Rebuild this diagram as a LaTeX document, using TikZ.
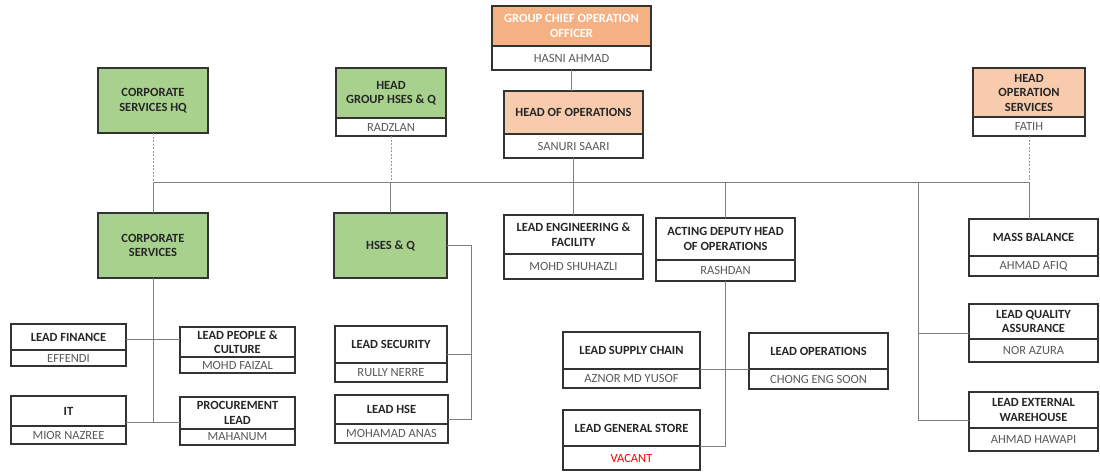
\documentclass[tikz,border=0pt]{standalone}
\usepackage{fontspec}
\setmainfont{Carlito}
\usepackage{tikz}
\usetikzlibrary{positioning}
\usetikzlibrary{calc}

\definecolor{boxgreen}{HTML}{A9D18E}
\definecolor{boxorange}{HTML}{F4B183}
\definecolor{boxpeach}{HTML}{F8CBAD}
\definecolor{namegray}{HTML}{595959}
\definecolor{linegray}{HTML}{7F7F7F}
\definecolor{vacantred}{HTML}{FF0000}

\begin{document}
\begin{tikzpicture}[x=1pt, y=-1pt,
  role/.style={draw=black!80, line width=1.2pt, anchor=north west, align=center, inner sep=1pt, outer sep=0pt, font=\fontsize{12.5}{14.5}\selectfont\bfseries, text=black!85},
  holder/.style={draw=black!80, line width=1.2pt, below=0pt of #1, align=center, inner sep=1pt, outer sep=0pt, font=\fontsize{12.5}{14.5}\selectfont, text=namegray},
  link/.style={draw=linegray, line width=0.8pt},
  dotlink/.style={draw=linegray!80, line width=0.8pt, dash pattern=on 2pt off 1.5pt}]
\useasboundingbox (0,0) rectangle (1100,472);

% top level
\node[role, fill=boxorange, text=white, minimum width=159pt, minimum height=40pt] (gcoo) at (492,6) {GROUP CHIEF OPERATION\\OFFICER};
\node[holder=gcoo, minimum width=159pt, minimum height=24pt] (gcoo-n) {HASNI AHMAD};
\node[role, fill=boxpeach, minimum width=139pt, minimum height=43pt] (hoo) at (504,91) {HEAD OF OPERATIONS};
\node[holder=hoo, minimum width=139pt, minimum height=24pt] (hoo-n) {SANURI SAARI};

\node[role, fill=boxgreen, minimum width=110pt, minimum height=65pt] (cshq) at (98,68) {CORPORATE\\SERVICES HQ};
\node[role, fill=boxgreen, minimum width=110pt, minimum height=50pt] (hhsq) at (336,68) {HEAD\\GROUP HSES \& Q};
\node[holder=hhsq, minimum width=110pt, minimum height=18pt] (hhsq-n) {RADZLAN};
\node[role, fill=boxpeach, minimum width=112pt, minimum height=49pt] (hos) at (973,68) {HEAD\\OPERATION\\SERVICES};
\node[holder=hos, minimum width=112pt, minimum height=19pt] (hos-n) {FATIH};

% second level
\node[role, fill=boxgreen, minimum width=110pt, minimum height=65pt] (cs) at (98,213) {CORPORATE\\SERVICES};
\node[role, fill=boxgreen, minimum width=113pt, minimum height=65pt] (hsq) at (334,213) {HSES \& Q};
\node[role, minimum width=139pt, minimum height=39pt] (lef) at (504,215) {LEAD ENGINEERING \&\\FACILITY};
\node[holder=lef, minimum width=139pt, minimum height=25pt] (lef-n) {MOHD SHUHAZLI};
\node[role, minimum width=139pt, minimum height=42pt] (adh) at (656,218) {ACTING DEPUTY HEAD\\OF OPERATIONS};
\node[holder=adh, minimum width=139pt, minimum height=21pt] (adh-n) {RASHDAN};
\node[role, minimum width=129pt, minimum height=37pt] (mb) at (969,219) {MASS BALANCE};
\node[holder=mb, minimum width=129pt, minimum height=20pt] (mb-n) {AHMAD AFIQ};
\node[role, minimum width=129pt, minimum height=35pt] (lqa) at (969,304) {LEAD QUALITY\\ASSURANCE};
\node[holder=lqa, minimum width=129pt, minimum height=23pt] (lqa-n) {NOR AZURA};
\node[role, minimum width=129pt, minimum height=36pt] (lew) at (969,392) {LEAD EXTERNAL\\WAREHOUSE};
\node[holder=lew, minimum width=129pt, minimum height=23pt] (lew-n) {AHMAD HAWAPI};

% corporate services team
\node[role, minimum width=115pt, minimum height=26pt] (lfin) at (11,324) {LEAD FINANCE};
\node[holder=lfin, minimum width=115pt, minimum height=16pt] (lfin-n) {EFFENDI};
\node[role, minimum width=115pt, minimum height=30pt] (lpc) at (180,327) {LEAD PEOPLE \&\\CULTURE};
\node[holder=lpc, minimum width=115pt, minimum height=16pt] (lpc-n) {MOHD FAIZAL};
\node[role, minimum width=115pt, minimum height=30pt] (lit) at (11,396) {IT};
\node[holder=lit, minimum width=115pt, minimum height=18pt] (lit-n) {MIOR NAZREE};
\node[role, minimum width=115pt, minimum height=32pt] (lpro) at (180,397) {PROCUREMENT\\LEAD};
\node[holder=lpro, minimum width=115pt, minimum height=16pt] (lpro-n) {MAHANUM};

% hses team
\node[role, minimum width=112pt, minimum height=37pt] (lsec) at (335,326) {LEAD SECURITY};
\node[holder=lsec, minimum width=112pt, minimum height=19pt] (lsec-n) {RULLY NERRE};
\node[role, minimum width=113pt, minimum height=29pt] (lhse) at (335,395) {LEAD HSE};
\node[holder=lhse, minimum width=113pt, minimum height=19pt] (lhse-n) {MOHAMAD ANAS};

% operations team
\node[role, minimum width=137pt, minimum height=37pt] (lsc) at (563,332) {LEAD SUPPLY CHAIN};
\node[holder=lsc, minimum width=137pt, minimum height=19pt] (lsc-n) {AZNOR MD YUSOF};
\node[role, minimum width=139pt, minimum height=36pt] (lops) at (749,333) {LEAD OPERATIONS};
\node[holder=lops, minimum width=139pt, minimum height=20pt] (lops-n) {CHONG ENG SOON};
\node[role, minimum width=137pt, minimum height=36pt] (lgs) at (563,410) {LEAD GENERAL STORE};
\node[holder=lgs, minimum width=137pt, minimum height=24pt, text=vacantred] (lgs-n) {VACANT};

% branch points
\coordinate (bus) at (0,182);
\coordinate (tap) at (918,182);
\coordinate (csA) at (153,339);
\coordinate (csB) at (153,422);
\coordinate (hsA) at (471,354);
\coordinate (hsB) at (471,419);
\coordinate (qaB) at (918,333);
\coordinate (ewB) at (918,420);

% connectors
\draw[link] (gcoo-n.south) -- (gcoo-n.south |- hoo.north);
\draw[dotlink] (cshq.south) -- (cshq.south |- bus);
\draw[dotlink] (hhsq-n.south) -- (hhsq-n.south |- bus);
\draw[dotlink] (hos-n.south) -- (hos-n.south |- bus);
\draw[link] (cshq.south |- bus) -- (hos-n.south |- bus);
\draw[link] (hoo-n.south) -- (lef.north);
\draw[link] (cs.north |- bus) -- (cs.north);
\draw[link] (hsq.north |- bus) -- (hsq.north);
\draw[link] (adh.north |- bus) -- (adh.north);
\draw[link] (hos-n.south |- bus) -- (hos-n.south |- mb.north);
\draw[link] (tap) -- (ewB) -- (lew.west |- ewB);
\draw[link] (qaB) -- (lqa.west |- qaB);

\draw[link] (cs.south) -- (csB);
\draw[link] (lfin.east |- csA) -- (lpc.west |- csA);
\draw[link] (lit.east |- csB) -- (lpro.west |- csB);

\draw[link] (hsq.east) -| (hsB) -- (lhse.east |- hsB);
\draw[link] (lsec.east |- hsA) -- (hsA);

\draw[link] (adh-n.south) |- (lgs.south east);
\draw[link] (lsc.south east) -- (lops.south west);
\end{tikzpicture}
\end{document}
